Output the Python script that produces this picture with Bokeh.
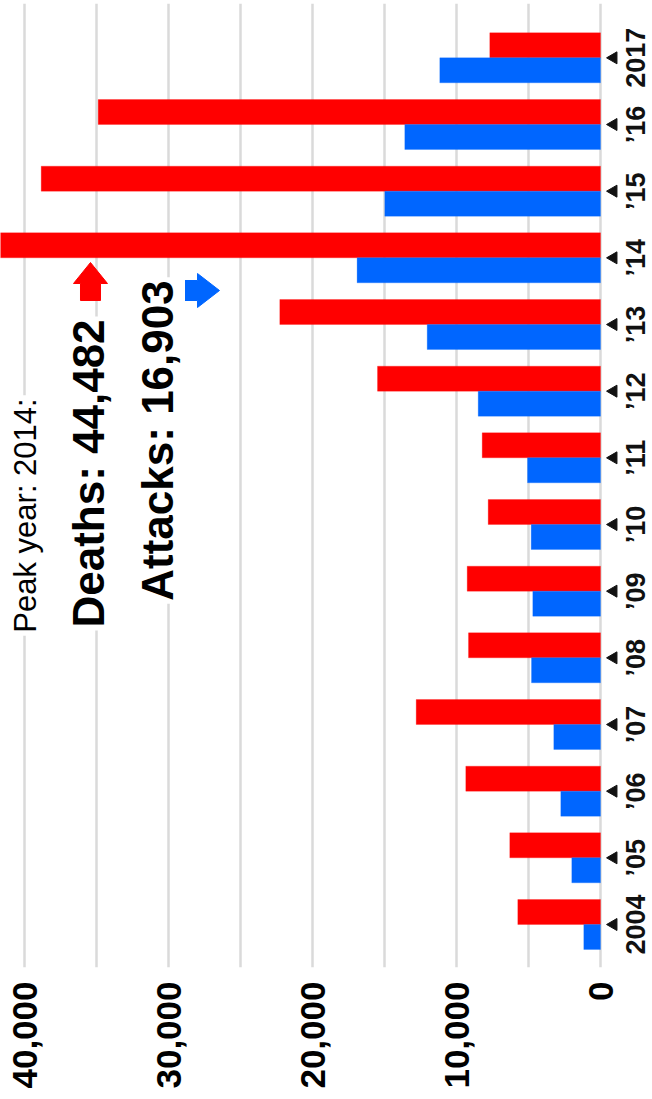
import math

from bokeh.embed import file_html
from bokeh.resources import INLINE
from bokeh.plotting import figure
from bokeh.models import (ColumnDataSource, Range1d, FixedTicker,
                          NumeralTickFormatter, Label)
from bokeh.core.properties import value

# Terror attacks and deaths per year
years = [2004, 2005, 2006, 2007, 2008, 2009, 2010, 2011, 2012, 2013, 2014, 2015, 2016, 2017]
year_labels = ["2004", "\u201905", "\u201906", "\u201907", "\u201908", "\u201909", "\u201910",
               "\u201911", "\u201912", "\u201913", "\u201914", "\u201915", "\u201916", "2017"]
deaths = [5743, 6299, 9354, 12799, 9167, 9257, 7799, 8215, 15486, 22271, 44482, 38840, 34882, 7688]
attacks = [1160, 1993, 2757, 3243, 4792, 4701, 4813, 5069, 8493, 12035, 16903, 14979, 13590, 11160]
value_ticks = [0, 10000, 20000, 30000, 40000]
grid_ticks = [0, 5000, 10000, 15000, 20000, 25000, 30000, 35000, 40000]

peak = deaths.index(max(deaths))
peak_year = years[peak]

RED = "#ff0000"
BLUE = "#0066ff"
W, H = 652, 1099
TOP, BOTTOM = 3, 132
FRAME_H = H - TOP - BOTTOM

# value axis runs right-to-left, years bottom-to-top
x_range = Range1d(start=41667, end=-3611)
y_range = Range1d(start=2003.355, end=2017.815)
PX_X = W / (x_range.start - x_range.end)          # pixels per value unit
PX_Y = FRAME_H / (y_range.end - y_range.start)    # pixels per year

BAR = 0.375  # bar thickness in years
MARK_GAP = 13  # pixels from the zero line to the year marker

src = ColumnDataSource(dict(
    year=years,
    label=year_labels,
    deaths=deaths,
    attacks=attacks,
    zero=[0] * len(years),
    mark_x=[-MARK_GAP / PX_X] * len(years),
    y_deaths=[y + BAR / 2 for y in years],
    y_attacks=[y - BAR / 2 for y in years],
))

p = figure(width=W, height=H, x_range=x_range, y_range=y_range,
           output_backend="svg", toolbar_location=None,
           y_axis_location=None, min_border_left=0, min_border_right=0,
           min_border_top=TOP, min_border_bottom=BOTTOM,
           background_fill_color="white", border_fill_color="white")
p.outline_line_color = None

# grid every 5,000; labels every 10,000
p.xgrid.ticker = FixedTicker(ticks=grid_ticks)
p.xgrid.grid_line_color = "#dadada"
p.xgrid.grid_line_width = 2.5
p.ygrid.grid_line_color = None

ax = p.xaxis[0]
ax.ticker = FixedTicker(ticks=value_ticks)
ax.formatter = NumeralTickFormatter(format="0,0")
ax.major_label_orientation = math.pi / 2
ax.major_label_standoff = 8
ax.major_label_text_font = "Liberation Sans"
ax.major_label_text_font_style = "bold"
ax.major_label_text_font_size = "35px"
ax.major_label_text_color = "#000000"
ax.axis_line_color = None
ax.major_tick_line_color = None
ax.minor_tick_line_color = None

# bars
p.hbar(y="y_deaths", left="zero", right="deaths", height=BAR, source=src,
       fill_color=RED, line_color=RED, line_alpha=0.5, line_width=0.5)
p.hbar(y="y_attacks", left="zero", right="attacks", height=BAR, source=src,
       fill_color=BLUE, line_color=BLUE, line_alpha=0.5, line_width=0.5)

# year markers and labels to the right of the zero line
p.scatter(x="mark_x", y="year", source=src, marker="triangle", size=12,
          angle=math.pi / 2, fill_color="#111111", line_color="#111111")
p.text(x="zero", y="year", text="label", source=src, angle=math.pi / 2,
       x_offset=35, text_align="center", text_baseline="middle",
       text_font=value("Liberation Sans"), text_font_style="bold",
       text_font_size="27px", text_color="#111111")


def arrow(tip_x, tip_y, shape):
    """Polygon around a tip given in data units; shape offsets in pixels (right, down)."""
    xs = [tip_x - dx / PX_X for dx, dy in shape]
    ys = [tip_y - dy / PX_Y for dx, dy in shape]
    return xs, ys


up_shape = [(0, 0), (17, 21), (10, 21), (10, 38), (-10, 38), (-10, 21), (-17, 21)]
right_shape = [(0, 0), (-22, -17), (-22, -10), (-38, -10), (-38, 10), (-22, 10), (-22, 17)]

xs, ys = arrow(35417, peak_year - 0.07, up_shape)
p.patch(xs, ys, fill_color=RED, line_color=RED)
xs, ys = arrow(26458, peak_year - 0.49, right_shape)
p.patch(xs, ys, fill_color=BLUE, line_color=BLUE)


# peak-year annotation
def note(x, y, text, size, bold):
    p.add_layout(Label(x=x, y=y, text=text, angle=math.pi / 2,
                       text_align="center", text_baseline="middle",
                       text_font="Liberation Sans",
                       text_font_style="bold" if bold else "normal",
                       text_font_size=size, text_color="#000000",
                       background_fill_color="white", padding=3))


note(39931, 2010.135, f"Peak year: {peak_year}:", "31px", False)
note(35556, 2010.765, f"Deaths: {deaths[peak]:,}", "44px", True)
note(30764, 2011.26, f"Attacks: {attacks[peak]:,}", "44px", True)

open("out.html", "w").write(file_html(p, INLINE))
